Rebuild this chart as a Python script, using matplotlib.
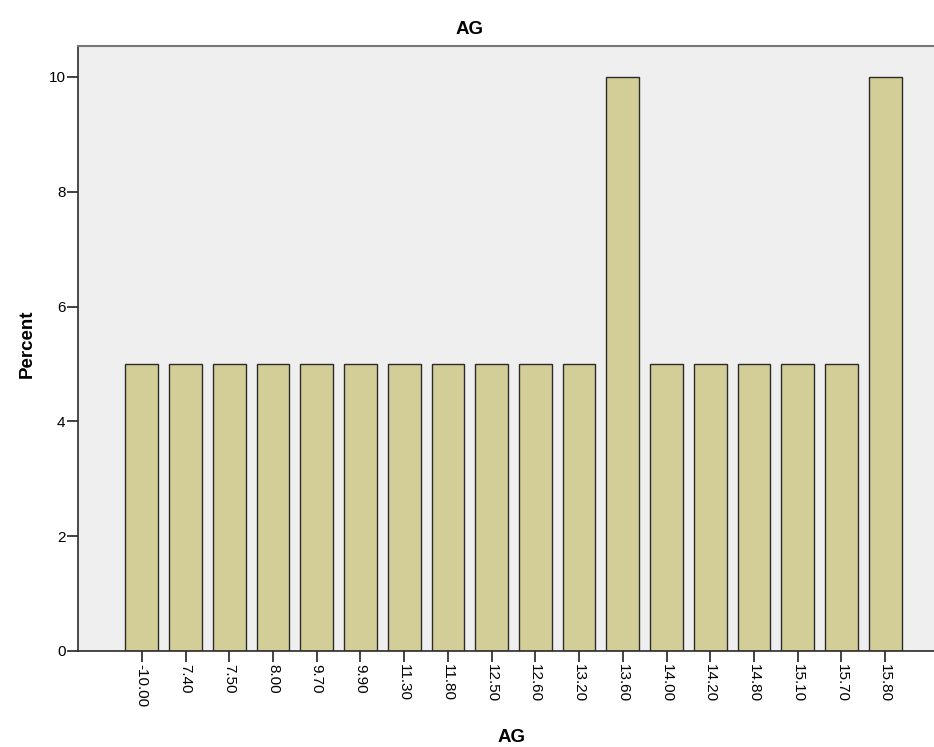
import matplotlib
matplotlib.use("Agg")
import matplotlib.pyplot as plt

categories = ["-10.00", "7.40", "7.50", "8.00", "9.70", "9.90", "11.30", "11.80",
              "12.50", "12.60", "13.20", "13.60", "14.00", "14.20", "14.80",
              "15.10", "15.70", "15.80"]
percent = [5, 5, 5, 5, 5, 5, 5, 5, 5, 5, 5, 10, 5, 5, 5, 5, 5, 10]

plt.rcParams['font.family'] = ['Liberation Sans', 'DejaVu Sans']

W, H = 934, 747
fig = plt.figure(figsize=(W / 100, H / 100), dpi=100)
left, right, top, bottom = 78, 949, 46, 651
ax = fig.add_axes([left / W, 1 - bottom / H, (right - left) / W, (bottom - top) / H])
ax.set_facecolor("#EFEFEF")

x = list(range(len(categories)))
ax.bar(x, percent, width=0.75, color="#D3CE97", edgecolor="#2b2b2b", linewidth=1.0, zorder=2)

ax.set_xlim(-1.46, len(categories) - 1 + 1.46)
ax.set_ylim(0, 10.54)
ax.set_yticks([0, 2, 4, 6, 8, 10])
ax.set_xticks(x)
ax.set_xticklabels(categories, rotation=270, fontsize=11)
ax.tick_params(axis='y', labelsize=11, length=8, width=1.2, color="#222222", pad=1)
ax.tick_params(axis='x', length=8, width=1.2, color="#222222", pad=1)

for s in ["left", "bottom"]:
    ax.spines[s].set_color("#2b2b2b")
    ax.spines[s].set_linewidth(1.2)
ax.spines["top"].set_color("#777777")
ax.spines["top"].set_linewidth(1.5)
ax.spines["right"].set_visible(False)

fig.text(470 / W, 1 - 30 / H, "AG", ha="center", va="center", fontsize=13.5, fontweight="bold")
fig.text(512 / W, 1 - 737 / H, "AG", ha="center", va="center", fontsize=13.5, fontweight="bold")
fig.text(27 / W, 1 - 344 / H, "Percent", ha="center", va="center", rotation=90, fontsize=13.5, fontweight="bold")

fig.savefig("out.png", dpi=100)
